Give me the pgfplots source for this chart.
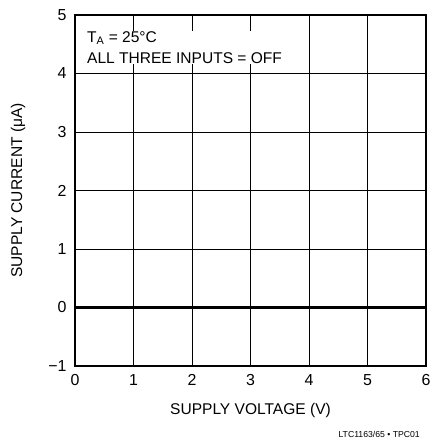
\documentclass[border=0pt]{standalone}
\usepackage{fontspec}
\setmainfont{Liberation Sans}
\usepackage{pgfplots}
\pgfplotsset{compat=1.18}
\begin{document}
\begin{tikzpicture}
\useasboundingbox (-75bp,-75bp) rectangle (357bp,366bp);
\begin{axis}[
  at={(0,0)}, anchor=south west,
  scale only axis, width=351bp, height=351bp,
  xmin=0, xmax=6, ymin=-1, ymax=5,
  xtick={0,1,2,3,4,5,6}, ytick={-1,0,1,2,3,4,5},
  /pgf/number format/assume math mode=true,
  yticklabels={−1,0,1,2,3,4,5},
  xticklabels={0,1,2,3,4,5,6},
  major tick length=0pt,
  grid=major, major grid style={black, line width=0.9pt},
  axis line style={black, line width=1.6pt},
  ticklabel style={font=\fontsize{16}{18}\selectfont},
  xticklabel style={yshift=-5bp},
  yticklabel style={xshift=-5bp},
  xlabel={SUPPLY VOLTAGE (V)},
  ylabel={SUPPLY CURRENT (μA)},
  label style={font=\fontsize{15.6}{18}\selectfont},
  xlabel style={at={(axis description cs:0.5,-0.127)}, anchor=center},
  ylabel style={at={(axis description cs:-0.162,0.5)}, anchor=center},
]
\addplot[black, line width=2.8pt] coordinates {(0,0) (6,0)};
\end{axis}
\node[anchor=base west, align=left, font=\fontsize{15.6}{22}\selectfont, inner sep=0pt, fill=white]
  at (12bp,302bp) {T\textsubscript{A} = 25°C\\ALL THREE INPUTS = OFF};
\node[anchor=base east, font=\fontsize{8.7}{10}\selectfont, inner sep=0pt] at (345bp,-71bp) {LTC1163/65 • TPC01};
\end{tikzpicture}
\end{document}
